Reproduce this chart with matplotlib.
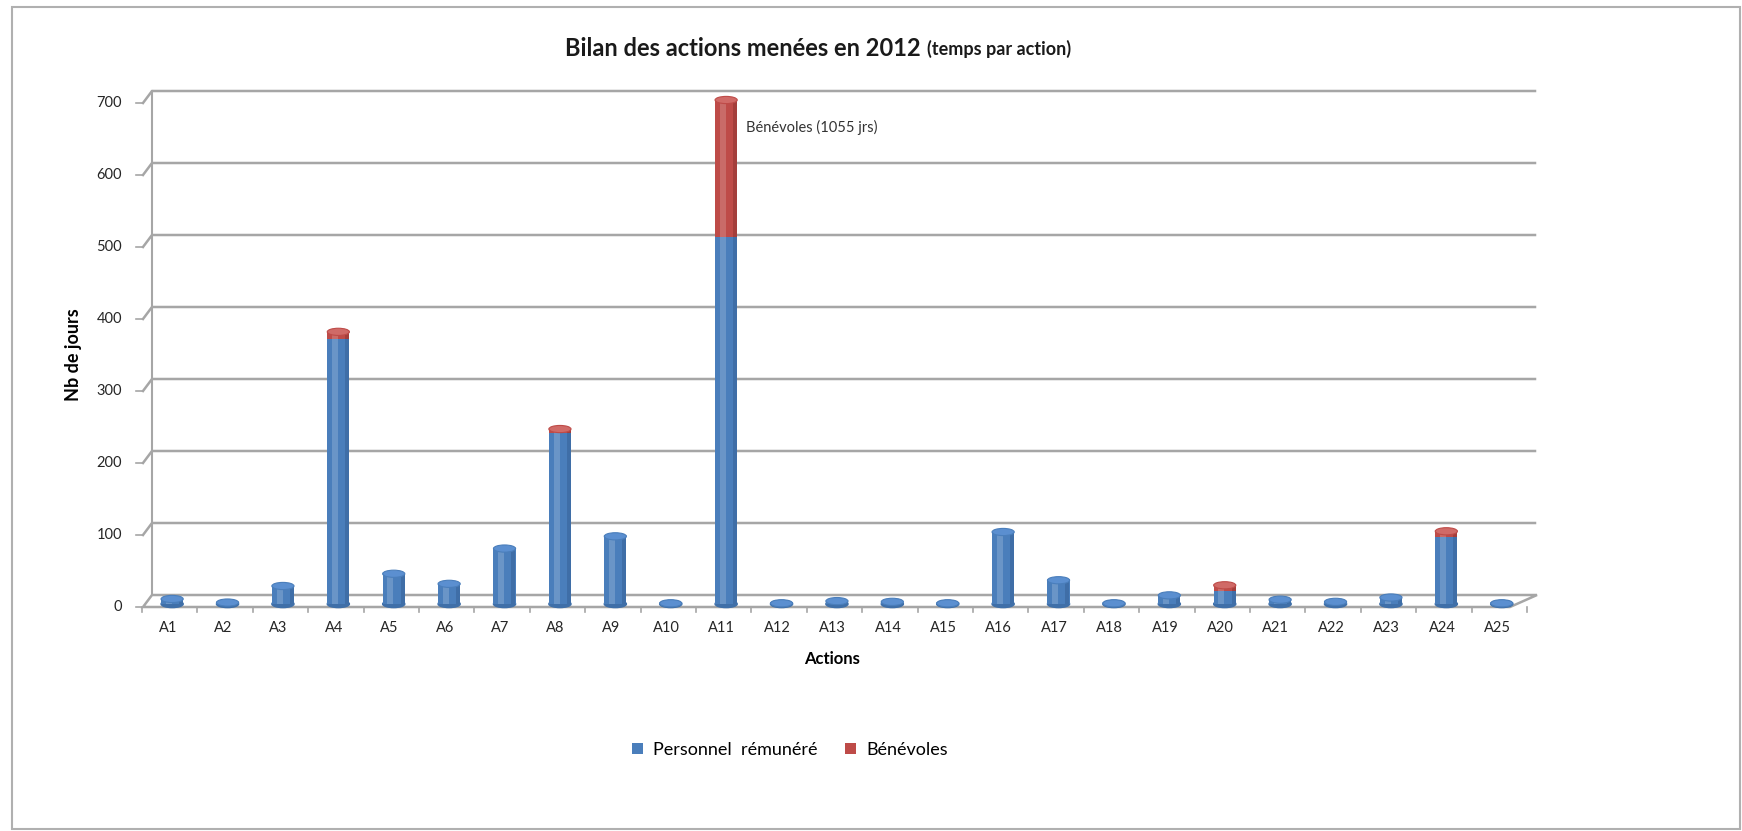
import matplotlib
matplotlib.use("Agg")
import matplotlib.pyplot as plt
from matplotlib.patches import Ellipse, Rectangle, Polygon, Patch
from matplotlib.lines import Line2D
import numpy as np

# Data (Nb de jours)
actions = ["A1", "A2", "A3", "A4", "A5", "A6", "A7", "A8", "A9", "A10",
           "A11", "A12", "A13", "A14", "A15", "A16", "A17", "A18", "A19", "A20",
           "A21", "A22", "A23", "A24", "A25"]
personnel = [7, 2, 25, 368, 42, 28, 77, 238, 94, 1,
             510, 1, 4, 3, 1, 100, 33, 1, 12, 18,
             6, 3, 9, 93, 1]
benevoles = [0, 0, 0, 10, 0, 0, 0, 5, 0, 0,
             1055, 0, 0, 0, 0, 0, 0, 0, 0, 8,
             0, 0, 0, 8, 0]
yticks = [0, 100, 200, 300, 400, 500, 600, 700]

BLUE = "#4a7ebb"
RED = "#be4b48"
GRID = "#a6a6a6"
W, H = 1742, 831

plt.rcParams["font.family"] = ["Lato", "DejaVu Sans"]

fig = plt.figure(figsize=(W / 100, H / 100), dpi=100)


def fpx(x, y):
    # image pixel -> figure fraction
    return (x / W, 1 - y / H)


# outer frame
fig.patches.append(Rectangle(fpx(12, 829), (1740 - 12) / W, (829 - 7) / H,
                             transform=fig.transFigure, fill=False,
                             edgecolor="#b0b0b0", lw=1.5, zorder=-3))

ax_left, ax_right, y0, y700 = 140, 1525, 604, 100
ax = fig.add_axes([ax_left / W, 1 - y0 / H, (ax_right - ax_left) / W, (y0 - y700) / H])
ax.set_xlim(-0.5, len(actions) - 0.5)
ax.set_ylim(0, 700)
ax.patch.set_alpha(0)
for s in ax.spines.values():
    s.set_visible(False)

BACK = (12, 9)    # back plane offset in px (right, up)
FRONT = (3, -3)   # front edge offset in px


def to_fig(disp):
    return fig.transFigure.inverted().transform(disp)


fig.canvas.draw()
yt = ax.get_yaxis_transform()
for v in yticks:
    p = yt.transform((0, v))
    q = yt.transform((1, v))
    a = to_fig((p[0] + FRONT[0], p[1] + FRONT[1]))
    b = to_fig((p[0] + BACK[0], p[1] + BACK[1]))
    c = to_fig((q[0] + BACK[0] - 2, q[1] + BACK[1]))
    if v > 0:
        fig.lines.append(Line2D([a[0], b[0], c[0]], [a[1], b[1], c[1]],
                                transform=fig.transFigure, color=GRID, lw=1.8, zorder=-2))
    t = to_fig((p[0] - 4, p[1] + FRONT[1]))
    t2 = to_fig((p[0] + FRONT[0], p[1] + FRONT[1]))
    fig.lines.append(Line2D([t[0], t2[0]], [t[1], t2[1]],
                            transform=fig.transFigure, color=GRID, lw=1.2, zorder=-2))
    fig.text(*to_fig((p[0] - 18, p[1] + FRONT[1])), str(v), ha="right", va="center",
             fontsize=10.5, color="#262626")

# back-left wall edge
p0 = yt.transform((0, 0))
p7 = yt.transform((0, 700))
a = to_fig((p0[0] + BACK[0], p0[1] + BACK[1]))
b = to_fig((p7[0] + BACK[0], p7[1] + BACK[1]))
fig.lines.append(Line2D([a[0], b[0]], [a[1], b[1]], transform=fig.transFigure,
                        color=GRID, lw=1.5, zorder=-2))

# floor
q0 = yt.transform((1, 0))
floor = [to_fig((p0[0] + FRONT[0], p0[1] + FRONT[1])),
         to_fig((q0[0] - 15, q0[1] + FRONT[1])),
         to_fig((q0[0] + BACK[0], q0[1] + BACK[1])),
         to_fig((p0[0] + BACK[0], p0[1] + BACK[1]))]
fig.patches.append(Polygon(floor, closed=True, transform=fig.transFigure,
                           facecolor="white", edgecolor=GRID, lw=1.8, zorder=-1))

# x ticks below front edge
xt = ax.get_xaxis_transform()
for i in range(len(actions) + 1):
    d = xt.transform((i - 0.5, 0))
    a = to_fig((d[0] + 2, d[1] + FRONT[1]))
    b = to_fig((d[0] + 2, d[1] + FRONT[1] - 5))
    fig.lines.append(Line2D([a[0], b[0]], [a[1], b[1]], transform=fig.transFigure,
                            color=GRID, lw=1.2, zorder=-1))

# cylinder bars
x = np.arange(len(actions)) + 0.08
bw = 0.4
pers = np.array(personnel, dtype=float)
bene = np.array(benevoles, dtype=float)
ax.bar(x, pers, width=bw, color=BLUE, zorder=3)
ax.bar(x, bene, bottom=pers, width=bw, color=RED, zorder=3)
# light shine / shadow on cylinders
ax.bar(x - 0.06, pers, width=0.11, color="white", alpha=0.18, zorder=4, lw=0)
ax.bar(x - 0.06, bene, bottom=pers, width=0.11, color="white", alpha=0.18, zorder=4, lw=0)
ax.bar(x + 0.16, pers, width=0.07, color="#1f3f6e", alpha=0.25, zorder=4, lw=0)
ax.bar(x + 0.16, bene, bottom=pers, width=0.07, color="#5a1a18", alpha=0.25, zorder=4, lw=0)
for xi, pv, bv in zip(x, pers, bene):
    top = min(pv + bv, 700)
    col = RED if bv > 0 else BLUE
    capcol = "#d06a67" if bv > 0 else "#5b8fd0"
    ax.add_patch(Ellipse((xi, 0), bw, 10, color="#3f6fa8", zorder=2.5, clip_on=False))
    ax.add_patch(Ellipse((xi, top), bw, 10, facecolor=capcol, edgecolor=col, lw=0.8,
                         zorder=5, clip_on=False))

ax.set_xticks(np.arange(len(actions)))
ax.set_xticklabels(actions, fontsize=10.5, color="#262626")
ax.tick_params(axis="x", length=0, pad=12)
ax.set_yticks([])
ax.set_xlabel("Actions", fontsize=12, fontweight="bold", labelpad=12)

fig.text(73 / W, 1 - 355 / H, "Nb de jours", rotation=90, ha="center", va="center",
         fontsize=13, fontweight="bold")

ax.annotate("Bénévoles (1055 jrs)", xy=(x[10], 700), xytext=(14, -20),
            textcoords="offset points", fontsize=10.5, color="#333333",
            ha="left", va="center", annotation_clip=False)

# title
t1 = fig.text(565 / W, 1 - 48 / H, "Bilan des actions menées en 2012 ", fontsize=17,
              fontweight="bold", ha="left", va="center", color="#1a1a1a")
fig.canvas.draw()
bb = t1.get_window_extent()
fig.text(to_fig((bb.x1, 0))[0], 1 - 49 / H, "(temps par action)", fontsize=13,
         fontweight="bold", ha="left", va="center", color="#1a1a1a")

handles = [Patch(facecolor=BLUE, label="Personnel  rémunéré"),
           Patch(facecolor=RED, label="Bénévoles")]
fig.legend(handles=handles, loc="center", bbox_to_anchor=(790 / W, 1 - 750 / H), ncol=2,
           frameon=False, fontsize=13, handlelength=0.6, handleheight=0.6,
           columnspacing=1.5, handletextpad=0.6)

fig.savefig("out.png", dpi=100)
